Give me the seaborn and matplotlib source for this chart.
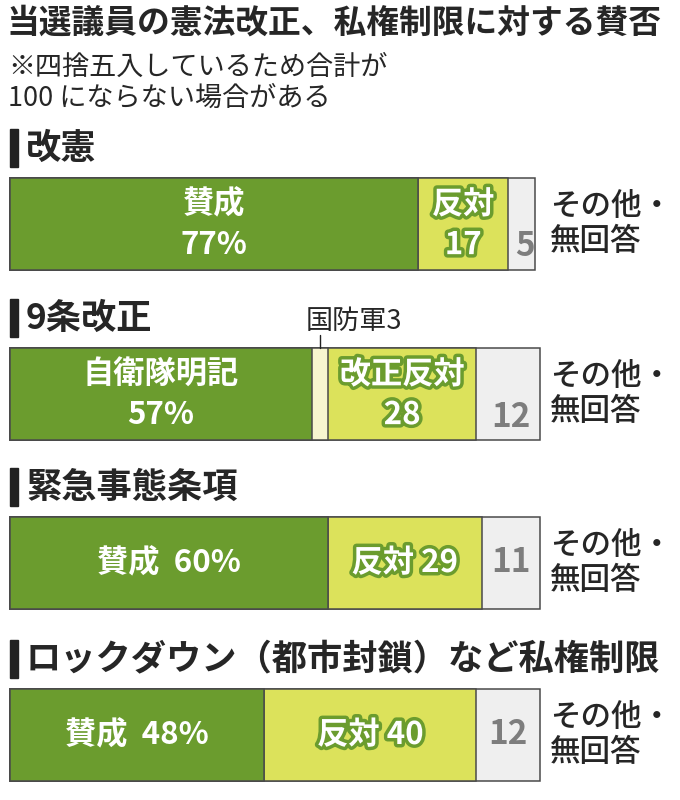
import matplotlib
matplotlib.use("Agg")
import matplotlib.pyplot as plt
import matplotlib.patheffects as pe
from matplotlib.patches import Rectangle
import seaborn as sns

sns.set_style("white")
plt.rcParams["font.family"] = ["Noto Sans CJK JP", "DejaVu Sans"]

# data
title = "当選議員の憲法改正、私権制限に対する賛否"
note = "※四捨五入しているため合計が\n100 にならない場合がある"
topics = ["改憲", "9条改正", "緊急事態条項", "ロックダウン（都市封鎖）など私権制限"]
yes_labels = ["賛成", "自衛隊明記", "賛成", "賛成"]
no_labels = ["反対", "改正反対", "反対", "反対"]
yes_vals = [77, 57, 60, 48]
army_vals = [0, 3, 0, 0]
no_vals = [17, 28, 29, 40]
other_vals = [5, 12, 11, 12]
army_label = "国防軍"
other_label = "その他・\n無回答"
two_line = [True, True, False, False]

GREEN = "#6b9c2e"
YELLOW = "#dce25b"
PALE = "#f7f5cf"
GREY = "#efefef"
EDGE = "#4a4a4a"
GREY_TXT = "#7d7d7d"

W, H = 680, 800
bar_tops = [178, 348, 517, 689]
bar_h = 92
x0, x_full = 10, 530

fig = plt.figure(figsize=(W / 100, H / 100), dpi=100)
fig.text(7 / W, 1 - 23 / H, title, fontsize=23.6, fontweight="bold", va="center", ha="left")
fig.text(8 / W, 1 - 83 / H, note, fontsize=19.5, va="center", ha="left", linespacing=1.2)

outline = [pe.withStroke(linewidth=5, foreground=GREEN)]

for i, topic in enumerate(topics):
    top = bar_tops[i]
    ax = fig.add_axes([x0 / W, 1 - (top + bar_h) / H, x_full / W, bar_h / H])

    c1 = yes_vals[i]
    c2 = c1 + army_vals[i]
    c3 = c2 + no_vals[i]
    c4 = c3 + other_vals[i]
    # cumulative bars drawn back to front give the stacked look
    for val, col in [(c4, GREY), (c3, YELLOW), (c2, PALE), (c1, GREEN)]:
        sns.barplot(x=[val], y=[topic], orient="h", color=col, width=1,
                    saturation=1, edgecolor=EDGE, linewidth=1.1,
                    errorbar=None, ax=ax)
    for p in ax.patches:
        p.set_clip_on(False)
    ax.set_xlim(0, 100)
    ax.set_ylim(0.5, -0.5)
    ax.axis("off")

    # section header
    fig.add_artist(Rectangle((10 / W, 1 - (top - 11) / H), 8 / W, 38 / H,
                             transform=fig.transFigure, color="#222222"))
    fig.text(26 / W, 1 - (top - 30) / H, topic, fontsize=25.4, fontweight="bold",
             va="center", ha="left")

    kw = dict(ha="center", va="center", fontweight="bold", fontsize=22.5)
    if two_line[i]:
        ax.text(c1 / 2, -0.21, yes_labels[i], color="white", **kw)
        ax.text(c1 / 2, 0.23, f"{yes_vals[i]}%", color="white", **kw)
        ax.text(c2 + no_vals[i] / 2, -0.21, no_labels[i], color="white",
                path_effects=outline, **kw)
        ax.text(c2 + no_vals[i] / 2, 0.23, str(no_vals[i]), color="white",
                path_effects=outline, **kw)
        ax.text(c3 + other_vals[i] / 2 + 0.6, 0.25, str(other_vals[i]),
                color=GREY_TXT, ha="center", va="center", fontweight="bold", fontsize=24)
    else:
        ax.text(c1 / 2, 0, f"{yes_labels[i]}  {yes_vals[i]}%", color="white", **kw)
        ax.text(c2 + no_vals[i] / 2, 0, f"{no_labels[i]} {no_vals[i]}", color="white",
                path_effects=outline, **kw)
        ax.text(c3 + other_vals[i] / 2, 0, str(other_vals[i]),
                color=GREY_TXT, ha="center", va="center", fontweight="bold", fontsize=24)

    if army_vals[i] > 0:
        mid = c1 + army_vals[i] / 2
        ax.plot([mid, mid], [-0.5, -0.64], color="#222222", lw=1, clip_on=False)
        ax.text(mid - 2.8, -0.79, f"{army_label}{army_vals[i]}", fontsize=19.5,
                ha="left", va="center")

    ax.text(540 / x_full, 0.5, other_label, transform=ax.transAxes, fontsize=22,
            fontweight="medium", ha="left", va="center", linespacing=1.2)

fig.savefig("out.png", dpi=100)
